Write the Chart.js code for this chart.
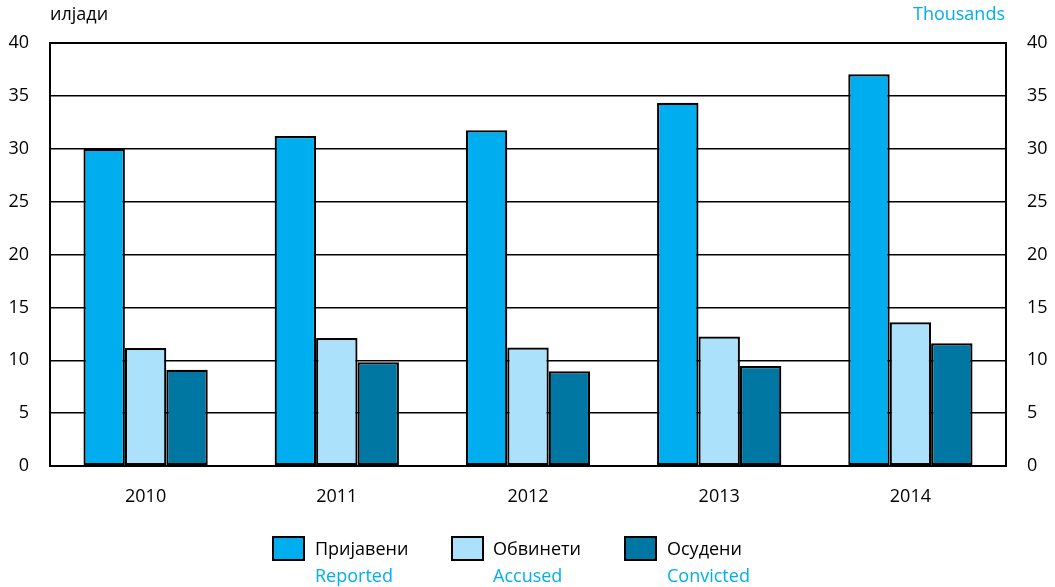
<!DOCTYPE html>
<html>
<head>
<meta charset="utf-8">
<script src="https://cdn.jsdelivr.net/npm/chart.js@4"></script>
<style>
  html, body { margin: 0; padding: 0; background: #fff; }
  #wrap { width: 1055px; height: 587px; }
</style>
</head>
<body>
<div id="wrap"><canvas id="c" width="1055" height="587"></canvas></div>
<script>
const years = ['2010', '2011', '2012', '2013', '2014'];
const reported = [30.0, 31.2, 31.75, 34.35, 37.05];
const accused = [11.15, 12.1, 11.2, 12.25, 13.6];
const convicted = [9.1, 9.8, 8.95, 9.45, 11.6];
const seriesMk = ['Пријавени', 'Обвинети', 'Осудени'];
const seriesEn = ['Reported', 'Accused', 'Convicted'];
const colors = ['#00ADEE', '#ABE1FA', '#0077A3'];
const yTicks = [0, 5, 10, 15, 20, 25, 30, 35, 40];

const FONT = '"Open Sans", "Noto Sans", sans-serif';
const BLUE_TEXT = '#00AEEF';

const extras = {
  id: 'extras',
  afterDraw(chart) {
    const ctx = chart.ctx;
    ctx.save();
    ctx.font = '18px ' + FONT;
    ctx.textBaseline = 'middle';
    ctx.fillStyle = '#000';
    ctx.textAlign = 'left';
    ctx.fillText('илјади', 50, 15);
    ctx.fillStyle = BLUE_TEXT;
    ctx.textAlign = 'right';
    ctx.fillText('Thousands', 1005, 15);

    // legend
    const boxX = [273, 452, 625];
    const textX = [315, 493, 667];
    for (let i = 0; i < 3; i++) {
      ctx.fillStyle = colors[i];
      ctx.fillRect(boxX[i], 537, 31, 23);
      ctx.lineWidth = 2;
      ctx.strokeStyle = '#000';
      ctx.strokeRect(boxX[i], 537, 31, 23);
      ctx.textAlign = 'left';
      ctx.fillStyle = '#000';
      ctx.fillText(seriesMk[i], textX[i], 550);
      ctx.fillStyle = BLUE_TEXT;
      ctx.fillText(seriesEn[i], textX[i], 577);
    }
    ctx.restore();
  }
};

const mkDs = (label, data, color) => ({
  label, data,
  backgroundColor: color,
  borderColor: '#000',
  borderWidth: 2.2,
  borderSkipped: false,
  categoryPercentage: 0.65,
  barPercentage: 1.0
});

new Chart(document.getElementById('c'), {
  type: 'bar',
  data: {
    labels: years,
    datasets: [
      mkDs(seriesMk[0], reported, colors[0]),
      mkDs(seriesMk[1], accused, colors[1]),
      mkDs(seriesMk[2], convicted, colors[2])
    ]
  },
  options: {
    responsive: false,
    animation: false,
    layout: { padding: { top: 43, left: 0, right: 0, bottom: 0 } },
    plugins: {
      legend: { display: false },
      tooltip: { enabled: false },
      title: { display: false }
    },
    scales: {
      x: {
        grid: { display: false },
        border: { display: true, color: '#000', width: 2 },
        ticks: { color: '#000', font: { family: FONT, size: 18 }, padding: 12 },
        afterFit(scale) { scale.height = 121; }
      },
      y: {
        position: 'left',
        min: 0, max: 40,
        afterBuildTicks(scale) { scale.ticks = yTicks.map(v => ({ value: v })); },
        grid: {
          color: '#000',
          lineWidth: (c) => (c.tick && c.tick.value === 40 ? 2 : 1.5),
          drawTicks: false
        },
        border: { display: true, color: '#000', width: 2 },
        ticks: { color: '#000', font: { family: FONT, size: 18 }, padding: 21 },
        afterFit(scale) { scale.width = 50; }
      },
      y2: {
        position: 'right',
        min: 0, max: 40,
        afterBuildTicks(scale) { scale.ticks = yTicks.map(v => ({ value: v })); },
        grid: { display: false, drawTicks: false },
        border: { display: true, color: '#000', width: 2 },
        ticks: { color: '#000', font: { family: FONT, size: 18 }, padding: 21 },
        afterFit(scale) { scale.width = 49; }
      }
    }
  },
  plugins: [extras]
});
</script>
</body>
</html>
